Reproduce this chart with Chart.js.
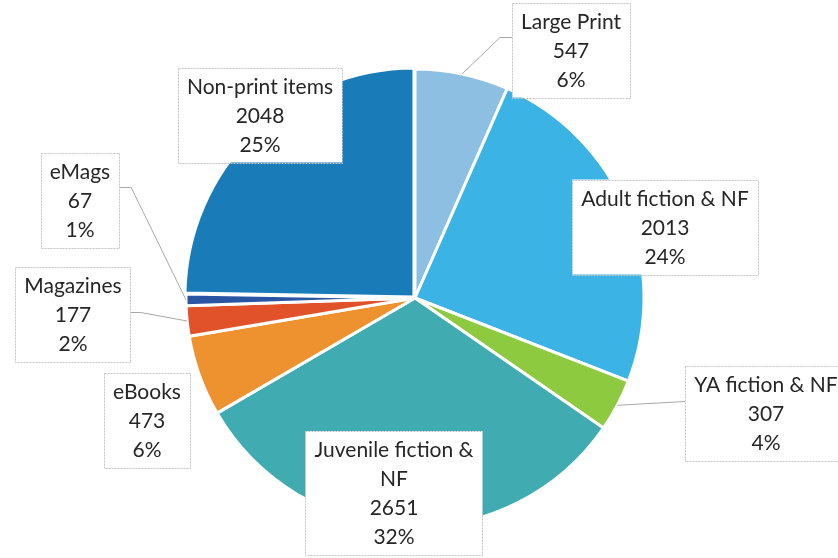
<!DOCTYPE html>
<html>
<head>
<meta charset="utf-8">
<script src="https://cdn.jsdelivr.net/npm/chart.js@4"></script>
<style>
  html, body { margin: 0; padding: 0; background: #fff; }
  #wrap { width: 838px; height: 558px; overflow: hidden; }
</style>
</head>
<body>
<div id="wrap"><canvas id="pie" width="838" height="558"></canvas></div>
<script>
// data
const categories = ["Large Print", "Adult fiction & NF", "YA fiction & NF", "Juvenile fiction & NF",
  "eBooks", "Magazines", "eMags", "Non-print items"];
const counts = [547, 2013, 307, 2651, 473, 177, 67, 2048];
const percentLabels = ["6%", "24%", "4%", "32%", "6%", "2%", "1%", "25%"];
// how each category name is wrapped in its label box
const nameLines = [["Large Print"], ["Adult fiction & NF"], ["YA fiction & NF"], ["Juvenile fiction &", "NF"],
  ["eBooks"], ["Magazines"], ["eMags"], ["Non-print items"]];

const colors = ["#8dbfe2", "#3bb3e4", "#8dca3f", "#40acb2", "#ee922f", "#e1522b", "#2a55a2", "#1a7bb9"];

// label box placement (centre of box), leader attach y (from box top), leader side
const boxes = [
  { cx: 571, cy: 50, leader: 35, side: "left" },
  { cx: 665, cy: 227 },
  { cx: 766, cy: 413, leader: 36, side: "left", stub: 0 },
  { cx: 394, cy: 493 },
  { cx: 147, cy: 420 },
  { cx: 73, cy: 314, leader: 46, side: "right", stub: 10 },
  { cx: 80, cy: 200, leader: 35, side: "right" },
  { cx: 260, cy: 115 }
];

const FONT = "21px Lato";
const LINE_H = 29;

const labelBoxes = {
  id: "labelBoxes",
  afterDraw(chart) {
    const ctx = chart.ctx;
    const arcs = chart.getDatasetMeta(0).data;
    ctx.save();
    ctx.font = FONT;
    boxes.forEach((b, i) => {
      const lines = nameLines[i].concat([String(counts[i]), percentLabels[i]]);
      const w = Math.max(...lines.map(l => ctx.measureText(l).width)) + 18;
      const h = lines.length * LINE_H + 8;
      const x = b.cx - w / 2, y = b.cy - h / 2;

      if (b.leader !== undefined) {
        const a = arcs[i];
        const mid = (a.startAngle + a.endAngle) / 2;
        const px = a.x + Math.cos(mid) * a.outerRadius;
        const py = a.y + Math.sin(mid) * a.outerRadius;
        const ex = b.side === "left" ? x : x + w;
        const ey = y + b.leader;
        const stub = b.stub !== undefined ? b.stub : 12;
        const sx = b.side === "left" ? ex - stub : ex + stub;
        ctx.strokeStyle = "#a8a8a8";
        ctx.lineWidth = 1;
        ctx.beginPath();
        ctx.moveTo(px, py);
        ctx.lineTo(sx, ey);
        ctx.lineTo(ex, ey);
        ctx.stroke();
      }

      ctx.fillStyle = "#fff";
      ctx.fillRect(x, y, w, h);
      ctx.strokeStyle = "#c4c4c4";
      ctx.lineWidth = 1;
      ctx.setLineDash([2, 1]);
      ctx.strokeRect(Math.round(x) + 0.5, Math.round(y) + 0.5, Math.round(w), Math.round(h));
      ctx.setLineDash([]);

      ctx.fillStyle = "#262626";
      ctx.textAlign = "center";
      ctx.textBaseline = "alphabetic";
      lines.forEach((l, k) => ctx.fillText(l, b.cx, y + 26 + k * LINE_H));
    });
    ctx.restore();
  }
};

new Chart(document.getElementById("pie"), {
  type: "pie",
  data: {
    labels: categories,
    datasets: [{
      data: counts,
      backgroundColor: colors,
      borderColor: "#fff",
      borderWidth: 3,
      offset: [0, 0, 0, 0, 0, 0, 0, 6]
    }]
  },
  options: {
    responsive: false,
    animation: false,
    devicePixelRatio: 1,
    radius: 229,
    layout: { padding: { left: 0, right: 8, top: 38, bottom: 0 } },
    plugins: {
      legend: { display: false },
      tooltip: { enabled: false }
    }
  },
  plugins: [labelBoxes]
});
</script>
</body>
</html>
